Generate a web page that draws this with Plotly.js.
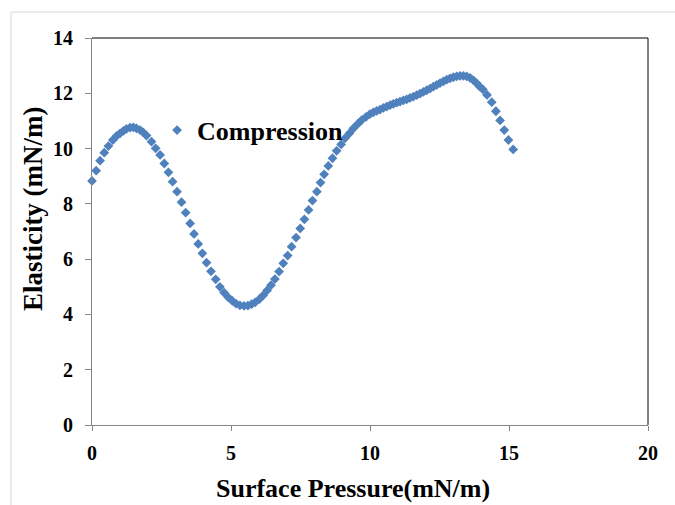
<!DOCTYPE html>
<html>
<head>
<meta charset="utf-8">
<script src="https://cdn.plot.ly/plotly-3.0.1.min.js"></script>
<style>
  html, body { margin: 0; padding: 0; background: #ffffff; }
  #chart { width: 675px; height: 505px; }
</style>
</head>
<body>
<div id="chart"></div>
<script>
// Surface pressure (mN/m)
const surfacePressure = [
  0.00, 0.15, 0.29, 0.44, 0.59, 0.75, 0.89, 1.01, 1.13, 1.24,
  1.37, 1.49, 1.60, 1.73, 1.84, 1.96, 2.14, 2.29, 2.45, 2.60,
  2.75, 2.90, 3.06, 3.22, 3.37, 3.53, 3.67, 3.82, 3.97, 4.12,
  4.28, 4.45, 4.60, 4.75, 4.90, 5.05, 5.18, 5.32, 5.47, 5.61,
  5.74, 5.87, 6.02, 6.16, 6.30, 6.44, 6.58, 6.73, 6.88, 7.04,
  7.18, 7.34, 7.49, 7.64, 7.79, 7.93, 8.09, 8.22, 8.35, 8.50,
  8.65, 8.80, 8.96, 9.10, 9.26, 9.40, 9.56, 9.70, 9.86, 10.00,
  10.12, 10.24, 10.36, 10.48, 10.60, 10.72, 10.84, 10.96, 11.08, 11.20,
  11.32, 11.44, 11.56, 11.68, 11.80, 11.92, 12.04, 12.16, 12.28, 12.40,
  12.52, 12.64, 12.76, 12.88, 13.00, 13.12, 13.24, 13.36, 13.48, 13.60,
  13.72, 13.84, 13.94, 14.06, 14.21, 14.38, 14.53, 14.68, 14.83, 14.98,
  15.15
];
// Elasticity (mN/m)
const elasticity = [
  8.83, 9.20, 9.56, 9.85, 10.09, 10.31, 10.46, 10.55, 10.64, 10.71,
  10.76, 10.77, 10.73, 10.67, 10.59, 10.47, 10.25, 10.01, 9.77, 9.46,
  9.14, 8.80, 8.44, 8.06, 7.68, 7.29, 6.91, 6.55, 6.21, 5.87,
  5.56, 5.27, 5.00, 4.79, 4.62, 4.49, 4.39, 4.33, 4.31, 4.32,
  4.37, 4.44, 4.55, 4.69, 4.87, 5.06, 5.28, 5.55, 5.85, 6.13,
  6.45, 6.78, 7.11, 7.44, 7.78, 8.12, 8.44, 8.77, 9.07, 9.37,
  9.65, 9.92, 10.15, 10.37, 10.55, 10.73, 10.89, 11.03, 11.15, 11.25,
  11.31, 11.36, 11.41, 11.47, 11.52, 11.57, 11.62, 11.66, 11.70, 11.74,
  11.78, 11.83, 11.88, 11.93, 11.99, 12.05, 12.11, 12.17, 12.24, 12.30,
  12.37, 12.43, 12.49, 12.54, 12.58, 12.61, 12.63, 12.63, 12.61, 12.56,
  12.47, 12.36, 12.25, 12.14, 11.94, 11.68, 11.35, 11.02, 10.67, 10.31,
  9.97
];
const seriesName = "Compression";
const xTitle = "Surface Pressure(mN/m)";
const yTitle = "Elasticity (mN/m)";
const xTicks = [0, 5, 10, 15, 20];
const yTicks = [0, 2, 4, 6, 8, 10, 12, 14];

const serif = "Liberation Serif, Times New Roman, serif";

const trace = {
  type: "scatter",
  mode: "markers",
  name: seriesName,
  x: surfacePressure,
  y: elasticity,
  marker: { symbol: "diamond", size: 7.5, color: "#4F81BD" },
  cliponaxis: false
};

const layout = {
  width: 675,
  height: 505,
  margin: { l: 92, r: 27, t: 38, b: 80 },
  paper_bgcolor: "#ffffff",
  plot_bgcolor: "#ffffff",
  showlegend: true,
  legend: {
    x: 0.117, y: 0.762, xanchor: "left", yanchor: "middle",
    bgcolor: "rgba(0,0,0,0)",
    font: { family: serif, size: 26, color: "#000000", weight: "bold" },
    itemwidth: 30
  },
  xaxis: {
    range: [0, 20],
    tickvals: xTicks,
    ticktext: xTicks.map(String),
    ticks: "outside", ticklen: 5, tickcolor: "#868686",
    showline: true, linecolor: "#868686", linewidth: 1,
    showgrid: false, zeroline: false,
    tickfont: { family: serif, size: 20, color: "#000000", weight: "bold" },
    ticklabelstandoff: 5
  },
  yaxis: {
    range: [0, 14],
    tickvals: yTicks,
    ticktext: yTicks.map(String),
    ticks: "outside", ticklen: 6, tickcolor: "#868686",
    showline: true, linecolor: "#868686", linewidth: 1,
    showgrid: false, zeroline: false,
    tickfont: { family: serif, size: 20, color: "#000000", weight: "bold" },
    ticklabelstandoff: 8
  },
  annotations: [
    {
      text: xTitle, xref: "paper", yref: "paper",
      x: 0.469, y: -0.163, xanchor: "center", yanchor: "middle",
      showarrow: false,
      font: { family: serif, size: 26, color: "#000000", weight: "bold" }
    },
    {
      text: yTitle, xref: "paper", yref: "paper",
      x: -0.106, y: 0.558, xanchor: "center", yanchor: "middle",
      textangle: -90, showarrow: false,
      font: { family: serif, size: 27, color: "#000000", weight: "bold" }
    }
  ],
  shapes: [
    { type: "line", xref: "paper", yref: "paper", x0: 0, x1: 1, y0: 1, y1: 1,
      line: { color: "#000000", width: 1 } },
    { type: "line", xref: "paper", yref: "paper", x0: 1, x1: 1, y0: 0, y1: 1,
      line: { color: "#000000", width: 1 } },
    { type: "line", xref: "paper", yref: "paper", x0: -0.1457, x1: 1.06, y0: 1.067, y1: 1.067,
      line: { color: "#d9d9d9", width: 1 } },
    { type: "line", xref: "paper", yref: "paper", x0: -0.1457, x1: -0.1457, y0: -0.21, y1: 1.067,
      line: { color: "#d9d9d9", width: 1 } }
  ]
};

Plotly.newPlot("chart", [trace], layout, { displayModeBar: false, staticPlot: true });
</script>
</body>
</html>
